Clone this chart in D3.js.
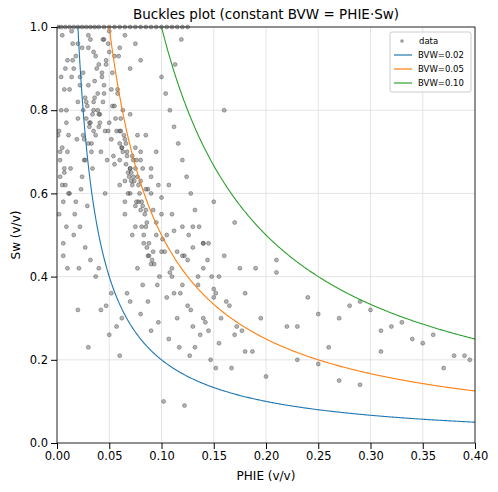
<!DOCTYPE html><html><head><script src="https://cdn.jsdelivr.net/npm/d3@7"></script>
<style>body{margin:0;background:#fff}text{font-family:"DejaVu Sans",sans-serif}</style></head><body>
<svg id="c" width="498" height="492"></svg>
<script>
const bvwLevels=[0.02,0.05,0.10];
const bvwColors=["#1f77b4","#ff7f0e","#2ca02c"];
const xTicks=[0,0.05,0.1,0.15,0.2,0.25,0.3,0.35,0.4];
const yTicks=[0,0.2,0.4,0.6,0.8,1.0];
const phie=[0.005,0.01,0.012,0.015,0.02,0.022,0.025,0.028,0.03,0.033,0.035,0.038,0.04,0.042,0.045,0.048,0.05,0.003,0.008,0.013,0.018,0.024,0.027,0.031,0.036,0.041,0.046,0.052,0.055,0.058,0.06,0.062,0.065,0.068,0.07,0.072,0.075,0.078,0.08,0.083,0.085,0.088,0.09,0.093,0.095,0.098,0.1,0.002,0.006,0.011,0.016,0.021,0.026,0.032,0.037,0.043,0.047,0.053,0.057,0.061,0.066,0.071,0.076,0.081,0.086,0.091,0.096,0.101,0.105,0.11,0.115,0.12,0.125,0.13,0.004,0.009,0.014,0.019,0.023,0.029,0.034,0.039,0.044,0.049,0.054,0.059,0.063,0.067,0.073,0.077,0.082,0.087,0.092,0.097,0.103,0.108,0.112,0.118,0.122,0.128,0.135,0.14,0.145,0.15,0.155,0.16,0.165,0.17,0.175,0.18,0.007,0.017,0.027,0.037,0.047,0.057,0.067,0.077,0.087,0.097,0.107,0.117,0.127,0.137,0.147,0.157,0.167,0.177,0.187,0.195,0.2,0.21,0.22,0.23,0.24,0.25,0.26,0.27,0.28,0.29,0.3,0.31,0.32,0.34,0.36,0.38,0.395,0.001,0.012,0.022,0.032,0.042,0.052,0.062,0.072,0.082,0.092,0.102,0.112,0.122,0.132,0.142,0.152,0.162,0.172,0.06,0.065,0.07,0.075,0.08,0.085,0.09,0.095,0.1,0.105,0.11,0.115,0.12,0.125,0.13,0.135,0.14,0.145,0.15,0.155,0.03,0.035,0.04,0.045,0.05,0.055,0.06,0.065,0.07,0.075,0.08,0.085,0.09,0.095,0.015,0.02,0.025,0.03,0.035,0.04,0.045,0.05,0.055,0.06,0.065,0.07,0.075,0.08,0.01,0.02,0.03,0.04,0.05,0.06,0.07,0.08,0.09,0.1,0.11,0.12,0.13,0.14,0.15,0.16,0.17,0.18,0.19,0.21,0.23,0.25,0.27,0.29,0.31,0.33,0.35,0.37,0.39,
0.001,0.004,0.008,0.012,0.016,0.02,0.024,0.028,0.032,0.036,0.04,0.045,0.05,0.055,0.06,0.065,0.07,0.075,0.08,0.085,0.09,0.095,0.1,0.105,0.11,0.115,0.12,0.125,
0.025,0.028,0.031,0.034,0.037,0.029,0.032,0.035,0.026,0.033,0.036,0.03,0.027,0.039,0.041,
0.06,0.063,0.066,0.069,0.072,0.064,0.067,0.07,0.062,0.068,0.071,0.074,0.065,0.061,0.073,
0.075,0.078,0.081,0.084,0.079,0.082,0.086,0.077,0.083,0.088,0.076,0.08,0.085,0.087,0.09,
0.002,0.003,0.005,0.006,0.007,0.009,0.01,0.004,0.008,0.006,0.011,0.003,0.005,0.007,0.009,
0.1,0.104,0.108,0.112,0.116,0.12,0.124,0.128,0.132,0.136,0.14,0.144,0.148,0.152,0.113,0.119,0.107,0.126,
0.016,0.022,0.018,0.014,0.02,0.024,0.043,0.047,0.052,0.056,0.044,0.049,0.053,0.058,0.046];
const sw=[0.98,0.92,0.85,0.96,0.78,0.88,0.74,0.82,0.95,0.72,0.8,0.9,0.76,0.7,0.86,0.68,0.94,0.7,0.62,0.66,0.58,0.64,0.83,0.77,0.87,0.79,0.6,0.73,0.67,0.85,0.62,0.71,0.55,0.65,0.6,0.69,0.52,0.58,0.63,0.48,0.56,0.45,0.6,0.43,0.5,0.4,0.55,0.55,0.48,0.74,0.5,0.42,0.68,0.97,0.93,0.89,0.91,0.81,0.75,0.78,0.72,0.63,0.58,0.52,0.47,0.44,0.38,0.49,0.35,0.42,0.3,0.38,0.33,0.28,0.88,0.8,0.99,0.73,0.61,0.57,0.66,0.84,0.97,0.75,0.69,0.93,0.8,0.7,0.64,0.74,0.66,0.61,0.56,0.62,0.46,0.41,0.51,0.36,0.45,0.32,0.4,0.3,0.27,0.37,0.24,0.45,0.33,0.26,0.42,0.22,0.65,0.55,0.47,0.4,0.33,0.28,0.36,0.42,0.34,0.29,0.25,0.23,0.21,0.26,0.2,0.3,0.18,0.27,0.22,0.3,0.16,0.41,0.28,0.2,0.35,0.19,0.23,0.15,0.33,0.14,0.32,0.22,0.28,0.25,0.26,0.21,0.2,0.74,0.6,0.52,0.44,0.32,0.36,0.3,0.5,0.38,0.46,0.1,0.36,0.09,0.23,0.29,0.18,0.34,0.28,0.68,0.63,0.66,0.57,0.7,0.61,0.64,0.53,0.59,0.5,0.55,0.46,0.52,0.44,0.47,0.38,0.42,0.48,0.35,0.4,0.86,0.82,0.79,0.84,0.77,0.81,0.75,0.73,0.79,0.71,0.68,0.74,0.66,0.7,0.92,0.96,0.89,0.98,0.94,0.91,0.97,0.99,0.93,0.95,0.98,0.9,0.96,0.92,0.42,0.32,0.23,0.42,0.26,0.21,0.34,0.31,0.27,0.46,0.4,0.45,0.52,0.48,0.58,0.8,0.53,0.36,0.42,0.44,0.28,0.31,0.3,0.34,0.27,0.29,0.24,0.18,0.21,
1,1,1,1,1,1,1,1,1,1,1,1,1,1,1,1,1,1,1,1,1,1,1,1,1,1,1,1,
0.8,0.78,0.76,0.79,0.74,0.81,0.77,0.75,0.73,0.7,0.83,0.72,0.68,0.8,0.77,
0.72,0.7,0.67,0.64,0.62,0.74,0.69,0.66,0.71,0.6,0.65,0.63,0.58,0.75,0.68,
0.66,0.62,0.58,0.55,0.6,0.57,0.53,0.64,0.5,0.48,0.68,0.56,0.52,0.45,0.43,
0.75,0.68,0.62,0.58,0.66,0.52,0.7,0.8,0.9,0.45,0.6,0.64,0.71,0.85,0.77,
0.88,0.84,0.8,0.76,0.72,0.68,0.64,0.6,0.56,0.52,0.48,0.44,0.4,0.36,0.91,0.97,0.62,0.5,
0.9,0.86,0.93,0.88,0.82,0.95,0.88,0.92,0.85,0.78,0.82,0.96,0.89,0.84,0.75];
const W=498,H=492,m={l:57,r:23,t:27,b:49};
const svg=d3.select("#c");
const x=d3.scaleLinear().domain([0,0.4]).range([m.l,W-m.r]);
const y=d3.scaleLinear().domain([0,1]).range([H-m.b,m.t]);
const g=svg.append("g");
g.selectAll(".gx").data(xTicks).join("line").attr("x1",d=>x(d)).attr("x2",d=>x(d)).attr("y1",y(0)).attr("y2",y(1)).attr("stroke","#ddd").attr("stroke-width",0.8);
g.selectAll(".gy").data(yTicks).join("line").attr("y1",d=>y(d)).attr("y2",d=>y(d)).attr("x1",x(0)).attr("x2",x(0.4)).attr("stroke","#ddd").attr("stroke-width",0.8);
svg.append("defs").append("clipPath").attr("id","cp").append("rect").attr("x",x(0)).attr("y",y(1)-3).attr("width",x(0.4)-x(0)).attr("height",y(0)-y(1)+3);
const pts=svg.append("g").attr("clip-path","url(#cp)");
pts.selectAll("circle").data(phie.map((p,i)=>[p,sw[i]])).join("circle").attr("cx",d=>x(d[0])).attr("cy",d=>y(d[1])).attr("r",2).attr("fill","rgba(90,90,90,0.45)").attr("stroke","rgba(20,20,20,0.5)").attr("stroke-width",0.6);
const curves=svg.append("g").attr("clip-path","url(#cp)");
bvwLevels.forEach((b,i)=>{const xs=d3.range(0,401).map(k=>b+(0.4-b)*k/400);
curves.append("path").attr("d",d3.line().x(p=>x(p)).y(p=>y(b/p))(xs)).attr("fill","none").attr("stroke",bvwColors[i]).attr("stroke-width",1.1);});
svg.append("g").attr("transform",`translate(0,${y(0)})`).call(d3.axisBottom(x).tickValues(xTicks).tickFormat(d3.format(".2f")).tickSizeOuter(0)).attr("font-size",11.5);
svg.append("g").attr("transform",`translate(${x(0)},0)`).call(d3.axisLeft(y).tickValues(yTicks).tickFormat(d3.format(".1f")).tickSizeOuter(0)).attr("font-size",11.5);
svg.append("rect").attr("x",x(0)).attr("y",y(1)).attr("width",x(0.4)-x(0)).attr("height",y(0)-y(1)).attr("fill","none").attr("stroke","#000").attr("stroke-width",0.8);
svg.selectAll(".domain").remove();
svg.selectAll(".tick text").attr("font-family","DejaVu Sans").attr("fill","#000");
svg.append("text").attr("x",(x(0)+x(0.4))/2).attr("y",19).attr("text-anchor","middle").attr("font-size",13.5).text("Buckles plot (constant BVW = PHIE·Sw)");
svg.append("text").attr("x",(x(0)+x(0.4))/2).attr("y",480).attr("text-anchor","middle").attr("font-size",12).text("PHIE (v/v)");
svg.append("text").attr("transform",`translate(20,${(y(0)+y(1))/2}) rotate(-90)`).attr("text-anchor","middle").attr("font-size",12).text("Sw (v/v)");
const lg=svg.append("g").attr("transform","translate(390,32)");
lg.append("rect").attr("width",81).attr("height",60).attr("rx",2).attr("fill","rgba(255,255,255,0.85)").attr("stroke","#ccc");
lg.append("circle").attr("cx",12).attr("cy",9).attr("r",1.8).attr("fill","rgba(90,90,90,0.6)");
lg.append("text").attr("x",29).attr("y",12).attr("font-size",8.5).text("data");
bvwLevels.forEach((b,i)=>{const yy=23+i*14;lg.append("line").attr("x1",4).attr("x2",22).attr("y1",yy).attr("y2",yy).attr("stroke",bvwColors[i]).attr("stroke-width",1.2);
lg.append("text").attr("x",28).attr("y",yy+3).attr("font-size",8.5).text("BVW="+b.toFixed(2));});
</script></body></html>
